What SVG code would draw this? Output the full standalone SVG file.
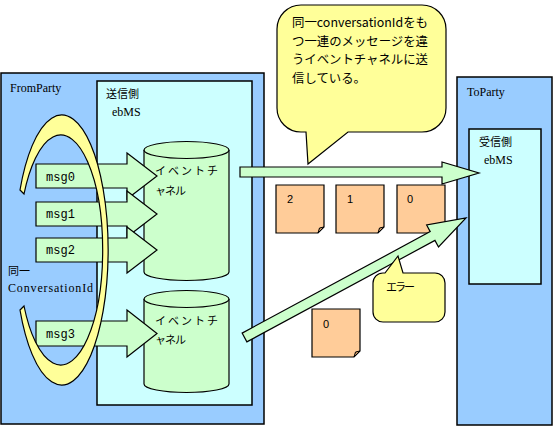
<svg xmlns="http://www.w3.org/2000/svg" xmlns:xlink="http://www.w3.org/1999/xlink" width="554" height="426" viewBox="0 0 554 426">
<style>
.party{fill:#99CCFF;stroke:#000;stroke-width:1.5}
.ebms{fill:#CCFFFF;stroke:#000;stroke-width:1.5}
.green{fill:#CCFFCC;stroke:#000;stroke-width:1.2}
.note{fill:#FFFF99;stroke:#000;stroke-width:1.2}
.doc{fill:#FFCC99;stroke:#000;stroke-width:1.2}
.fold{fill:#CC9966;stroke:#000;stroke-width:1}
.lat{font-family:"Liberation Serif","Noto Serif",serif;font-size:12px;fill:#000}
.mono{font-family:"Liberation Mono","DejaVu Sans Mono",monospace;font-size:12px;fill:#000}
.jp{font-family:"Noto Sans CJK JP","Noto Sans",sans-serif;font-size:11px;fill:#000}
.num{font-family:"Liberation Sans",Arial,sans-serif;font-size:11px;fill:#000}
</style>
<defs>
<g id="docshape">
<path class="doc" d="M0,0 H48 V42 L42,48 H0 Z"/>
<path class="fold" d="M42,48 L43.5,43 L48,42 Z"/>
</g>
</defs>
<rect width="554" height="426" fill="#fff"/>

<g id="fromParty">
<rect class="party" x="1" y="73" width="263" height="351"/>
<text class="lat" x="10" y="92">FromParty</text>
</g>
<g id="sendEbMS">
<rect class="ebms" x="97" y="81" width="155" height="324"/>
<text class="jp" x="106" y="98">送信側</text>
<text class="lat" x="112" y="116">ebMS</text>
</g>
<g id="toParty">
<rect class="party" x="457" y="77" width="95" height="348"/>
<text class="lat" x="467" y="96">ToParty</text>
</g>
<g id="recvEbMS">
<rect class="ebms" x="469" y="129" width="72" height="155"/>
<text class="jp" x="479" y="146">受信側</text>
<text class="lat" x="484" y="164">ebMS</text>
</g>

<g id="channel1">
<path class="green" d="M144,150 V272 A42.5,8.5 0 0 0 229,272 V150"/>
<ellipse class="green" cx="186.5" cy="150" rx="42.5" ry="8.5"/>
<text class="jp" x="155" y="175" textLength="63" lengthAdjust="spacing">イ ベ ン ト チ</text>
<text class="jp" x="155" y="195" textLength="31" lengthAdjust="spacing">ャネル</text>
</g>
<g id="channel2">
<path class="green" d="M144,299 V384 A42.5,8.5 0 0 0 229,384 V299"/>
<ellipse class="green" cx="186.5" cy="299" rx="42.5" ry="8.5"/>
<text class="jp" x="155" y="325" textLength="63" lengthAdjust="spacing">イ ベ ン ト チ</text>
<text class="jp" x="155" y="344" textLength="31" lengthAdjust="spacing">ャネル</text>
</g>

<g id="msg0">
<polygon class="green" points="36,164 127,164 127,153 157,176 127,199 127,188 36,188"/>
<text class="mono" x="46" y="181" textLength="29">msg0</text>
</g>
<g id="msg1">
<polygon class="green" points="36,202 127,202 127,191 157,214 127,237 127,226 36,226"/>
<text class="mono" x="46" y="218" textLength="29">msg1</text>
</g>
<g id="msg2">
<polygon class="green" points="36,238 127,238 127,227 157,250 127,273 127,262 36,262"/>
<text class="mono" x="46" y="254" textLength="29">msg2</text>
</g>
<g id="msg3">
<polygon class="green" points="36,321 127,321 127,310 157,333.5 127,357 127,346 36,346"/>
<text class="mono" x="46" y="338" textLength="29">msg3</text>
</g>

<g id="sameConversation">
<path class="note" d="M20,190 A46.5,135 0 1 1 20,310 L24,306 A42,115 0 1 0 24,194 Z"/>
<text class="jp" x="8" y="275">同一</text>
<text class="lat" x="8" y="292" textLength="85" lengthAdjust="spacing">ConversationId</text>
</g>

<g id="doc2"><use xlink:href="#docshape" x="276" y="185"/><text class="num" x="287" y="203">2</text></g>
<g id="doc1"><use xlink:href="#docshape" x="336" y="185"/><text class="num" x="347" y="203">1</text></g>
<g id="doc0"><use xlink:href="#docshape" x="397" y="185"/><text class="num" x="407" y="203">0</text></g>
<g id="docErr0"><use xlink:href="#docshape" x="312" y="309"/><text class="num" x="323" y="328">0</text></g>

<g id="connectors">
<polygon class="green" points="240,167 442,167 442,162 479,173 442,184 442,177 240,177"/>
<polygon class="green" transform="translate(244.5,337.5) rotate(-28.35)" points="0,-5 213.7,-5 213.7,-12.5 251.7,0 213.7,12.5 213.7,5 0,5"/>
</g>

<g id="calloutTop">
<path class="note" d="M301,5 H422 A24,24 0 0 1 446,29 V108 A24,24 0 0 1 422,132 H348 L308,164 L306,132 H301 A24,24 0 0 1 277,108 V29 A24,24 0 0 1 301,5 Z"/>
<text class="jp" x="292" y="27" style="font-size:12.4px" textLength="136" lengthAdjust="spacingAndGlyphs">同一conversationIdをも</text>
<text class="jp" x="292" y="46" style="font-size:12.4px" textLength="136">つ一連のメッセージを違</text>
<text class="jp" x="292" y="64" style="font-size:12.4px" textLength="136">うイベントチャネルに送</text>
<text class="jp" x="292" y="83" style="font-size:12.4px">信している。</text>
</g>

<g id="calloutError">
<path class="note" d="M383,273 H385 L398,256 L403,273 H435 A10,10 0 0 1 445,283 V312 A10,10 0 0 1 435,322 H383 A10,10 0 0 1 373,312 V283 A10,10 0 0 1 383,273 Z"/>
<text class="jp" x="386" y="291" textLength="29">エラー</text>
</g>
</svg>
